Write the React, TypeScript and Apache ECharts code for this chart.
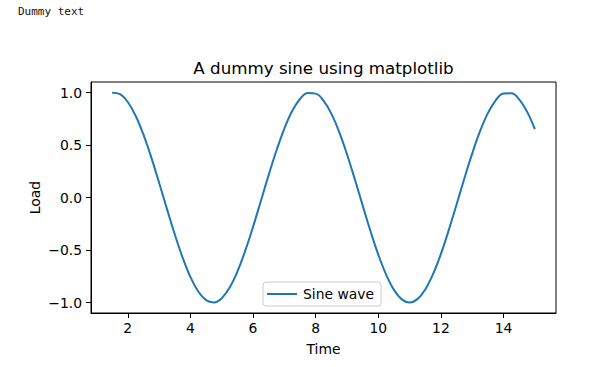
import React, { useEffect, useRef } from "react";
import * as echarts from "echarts";

const timeValues = [
  1.5, 1.75, 2.0, 2.25, 2.5, 2.75, 3.0, 3.25, 3.5, 3.75, 4.0, 4.25, 4.5, 4.75,
  5.0, 5.25, 5.5, 5.75, 6.0, 6.25, 6.5, 6.75, 7.0, 7.25, 7.5, 7.75, 8.0, 8.25,
  8.5, 8.75, 9.0, 9.25, 9.5, 9.75, 10.0, 10.25, 10.5, 10.75, 11.0, 11.25, 11.5,
  11.75, 12.0, 12.25, 12.5, 12.75, 13.0, 13.25, 13.5, 13.75, 14.0, 14.25, 14.5,
  14.75, 15.0,
];
const loadValues = [
  0.9975, 0.984, 0.9093, 0.7781, 0.5985, 0.3817, 0.1411, -0.1082, -0.3508,
  -0.5716, -0.7568, -0.895, -0.9775, -0.9993, -0.9589, -0.8589, -0.7055,
  -0.5083, -0.2794, -0.0332, 0.2151, 0.45, 0.657, 0.8231, 0.938, 0.9946, 0.9894,
  0.9226, 0.7985, 0.6248, 0.4121, 0.1739, -0.0752, -0.3195, -0.544, -0.7346,
  -0.8797, -0.97, -1.0, -0.9679, -0.8755, -0.7287, -0.5366, -0.3111, -0.0663,
  0.1826, 0.4202, 0.6318, 0.8038, 0.926, 0.9906, 0.9937, 0.9349, 0.818, 0.6503,
];
const xTicks = [2, 4, 6, 8, 10, 12, 14];
const yTicks = [-1.0, -0.5, 0.0, 0.5, 1.0];
const seriesName = "Sine wave";
const chartTitle = "A dummy sine using matplotlib";
const xName = "Time";
const yName = "Load";
const dummyText = "Dummy text";

const FONT = "DejaVu Sans";

export default function App() {
  const ref = useRef<HTMLDivElement>(null);
  useEffect(() => {
    if (!ref.current) return;
    const chart = echarts.init(ref.current, undefined, { renderer: "svg" });
    const data = timeValues.map((t, i) => [t, loadValues[i]]);
    const gridLeft = 91;
    const gridTop = 82;
    const gridW = 465;
    const gridH = 231;
    chart.setOption({
      animation: false,
      backgroundColor: "#ffffff",
      textStyle: { fontFamily: FONT },
      grid: {
        left: gridLeft,
        top: gridTop,
        width: gridW,
        height: gridH,
        show: true,
        borderColor: "#000",
        borderWidth: 1,
        containLabel: false,
      },
      legend: {
        show: true,
        data: [{ name: seriesName, icon: "path://M0,0 L30,0 L30,2 L0,2 Z" }],
        left: 263,
        top: 282,
        itemWidth: 30,
        itemHeight: 2,
        itemGap: 10,
        padding: [5, 7, 5, 4],
        backgroundColor: "rgba(255,255,255,0.8)",
        borderColor: "#cccccc",
        borderWidth: 1,
        borderRadius: 3,
        textStyle: { fontFamily: FONT, fontSize: 13.9, color: "#000", padding: [0, 0, 0, 1] },
      },
      xAxis: {
        type: "value",
        min: 0.825,
        max: 15.675,
        axisLine: { show: true, onZero: false, lineStyle: { color: "#000", width: 1 } },
        axisTick: { show: true, length: 5, customValues: xTicks, lineStyle: { color: "#000", width: 1 } },
        axisLabel: {
          customValues: xTicks,
          margin: 8,
          fontFamily: FONT,
          fontSize: 13.9,
          color: "#000",
          formatter: (v: number) => String(v),
        },
        splitLine: { show: false },
      },
      yAxis: {
        type: "value",
        min: -1.1,
        max: 1.1,
        axisLine: { show: true, onZero: false, lineStyle: { color: "#000", width: 1 } },
        axisTick: { show: true, length: 5, customValues: yTicks, lineStyle: { color: "#000", width: 1 } },
        axisLabel: {
          customValues: yTicks,
          margin: 9,
          fontFamily: FONT,
          fontSize: 13.9,
          color: "#000",
          formatter: (v: number) => v.toFixed(1).replace("-", "\u2212"),
        },
        splitLine: { show: false },
      },
      graphic: [
        {
          type: "text",
          left: 18,
          top: 6,
          style: { text: dummyText, font: '11px "DejaVu Sans Mono"', fill: "#111" },
        },
        {
          type: "text",
          x: gridLeft + gridW / 2,
          y: 68,
          style: {
            text: chartTitle,
            font: `16.7px "${FONT}"`,
            fill: "#000",
            align: "center",
            verticalAlign: "middle",
          },
        },
        {
          type: "text",
          x: gridLeft + gridW / 2,
          y: 349,
          style: {
            text: xName,
            font: `13.9px "${FONT}"`,
            fill: "#000",
            align: "center",
            verticalAlign: "middle",
          },
        },
        {
          type: "text",
          x: 35,
          y: gridTop + gridH / 2,
          rotation: Math.PI / 2,
          style: {
            text: yName,
            font: `13.9px "${FONT}"`,
            fill: "#000",
            align: "center",
            verticalAlign: "middle",
          },
        },
      ],
      series: [
        {
          name: seriesName,
          type: "line",
          data,
          showSymbol: false,
          smooth: 0.4,
          color: "#1f77b4",
          lineStyle: { color: "#1f77b4", width: 2 },
          clip: true,
        },
      ],
    });
    return () => chart.dispose();
  }, []);
  return (
    <div
      ref={ref}
      style={{ position: "absolute", left: 0, top: 0, width: 615, height: 367 }}
    />
  );
}
